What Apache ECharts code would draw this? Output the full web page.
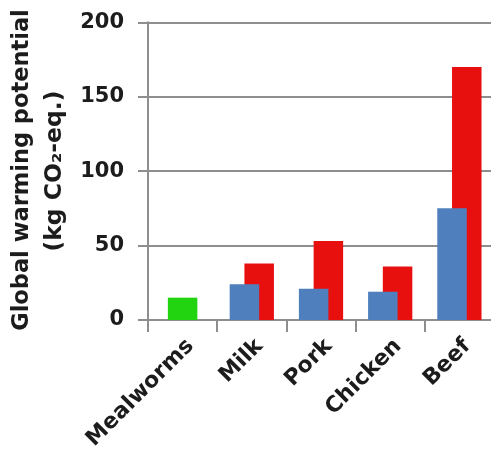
<!DOCTYPE html>
<html>
<head>
<meta charset="utf-8">
<script src="https://cdn.jsdelivr.net/npm/echarts@6/dist/echarts.min.js"></script>
<style>
html,body{margin:0;padding:0;background:#fff;}
#chart{width:491px;height:453px;}
</style>
</head>
<body>
<div id="chart"></div>
<script>
const categories = ['Mealworms', 'Milk', 'Pork', 'Chicken', 'Beef'];
const mealwormValues = [15, null, null, null, null];
const lowValues = [null, 24, 21, 19, 75];
const highValues = [null, 38, 53, 36, 170];
const yTicks = [0, 50, 100, 150, 200];
const titleLine1 = 'Global warming potential';
const titleLine2 = '(kg CO\u2082-eq.)';

const FONT = 'DejaVu Sans';
const AXIS_GRAY = '#8e8e8e';
const chart = echarts.init(document.getElementById('chart'), null, {renderer: 'canvas'});

const option = {
  backgroundColor: '#ffffff',
  animation: false,
  grid: {left: 148, right: -3, top: 22.3, bottom: 133, containLabel: false, outerBoundsMode: 'none'},
  xAxis: [
    {
      type: 'category',
      data: categories,
      boundaryGap: true,
      axisLine: {show: true, lineStyle: {color: AXIS_GRAY, width: 2}},
      axisTick: {show: true, length: 12, alignWithLabel: false, lineStyle: {color: AXIS_GRAY, width: 2}},
      axisLabel: {
        rotate: 45, interval: 0, margin: 15,
        verticalAlign: 'top',
        fontFamily: FONT, fontWeight: 'bold', fontSize: 22, color: '#1c1c1c'
      }
    },
    {
      type: 'category',
      data: categories,
      show: false
    }
  ],
  yAxis: {
    type: 'value',
    min: yTicks[0],
    max: yTicks[yTicks.length - 1],
    interval: 50,
    axisLine: {show: true, lineStyle: {color: AXIS_GRAY, width: 2}},
    axisTick: {show: true, length: 10, lineStyle: {color: AXIS_GRAY, width: 2}},
    splitLine: {show: true, lineStyle: {color: AXIS_GRAY, width: 2}},
    axisLabel: {
      margin: 24,
      fontFamily: FONT, fontWeight: 'bold', fontSize: 21, color: '#1c1c1c'
    }
  },
  series: [
    {
      name: 'Low estimate',
      type: 'bar',
      xAxisIndex: 0,
      data: lowValues,
      barWidth: 29.5,
      barGap: '-50%',
      z: 3,
      itemStyle: {color: '#4f80bd'}
    },
    {
      name: 'High estimate',
      type: 'bar',
      xAxisIndex: 0,
      data: highValues,
      barWidth: 29.5,
      barGap: '-50%',
      z: 2,
      itemStyle: {color: '#e80f0f'}
    },
    {
      name: 'Mealworms',
      type: 'bar',
      xAxisIndex: 1,
      data: mealwormValues,
      barWidth: 29.5,
      z: 3,
      itemStyle: {color: '#22d30f'}
    }
  ],
  graphic: [
    {
      type: 'text',
      x: 11, y: 170,
      rotation: Math.PI / 2,
      style: {
        text: titleLine1,
        fontFamily: FONT, fontWeight: 'bold', fontSize: 22.5, fill: '#1c1c1c',
        align: 'center', verticalAlign: 'top'
      }
    },
    {
      type: 'text',
      x: 43, y: 171,
      rotation: Math.PI / 2,
      style: {
        text: titleLine2,
        fontFamily: FONT, fontWeight: 'bold', fontSize: 23.5, fill: '#1c1c1c',
        align: 'center', verticalAlign: 'top'
      }
    }
  ]
};
chart.setOption(option);
</script>
</body>
</html>
